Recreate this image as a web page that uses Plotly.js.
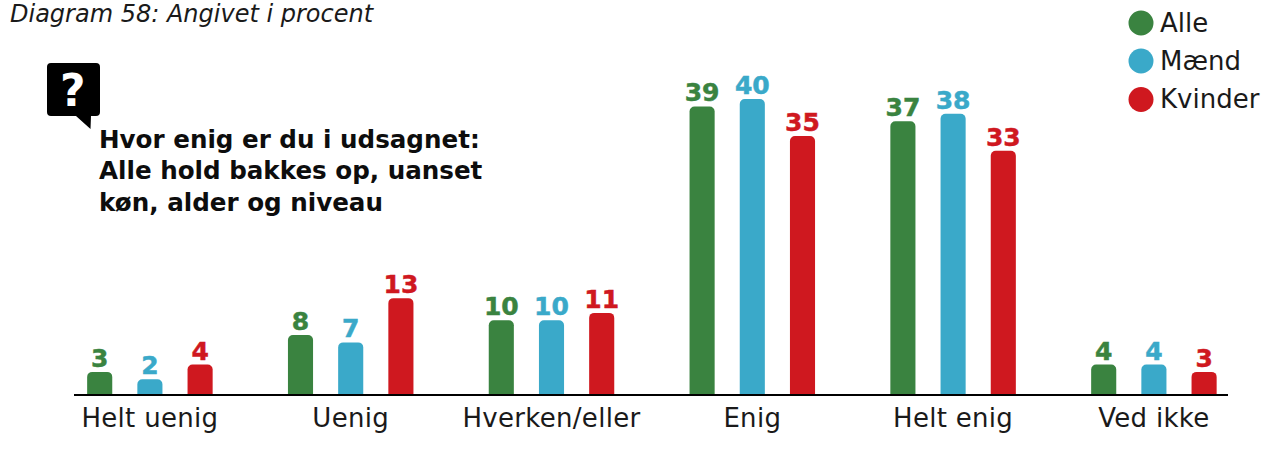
<!DOCTYPE html>
<html><head><meta charset="utf-8">
<script src="https://cdn.plot.ly/plotly-3.0.1.min.js"></script>
<style>html,body{margin:0;padding:0;background:#fff}#c{width:1266px;height:452px}
.xtick text{letter-spacing:.3px}</style>
</head><body><div id="c"></div>
<script>
const categories = ["Helt uenig","Uenig","Hverken/eller","Enig","Helt enig","Ved ikke"];
const alle = [3,8,10,39,37,4];
const maend = [2,7,10,40,38,4];
const kvinder = [4,13,11,35,33,3];
const seriesNames = ["Alle","Mænd","Kvinder"];
const colors = ["#3A8340","#3AA9C9","#CF181F"];
const caption = "Diagram 58: Angivet i procent";
const questionLines = ["Hvor enig er du i udsagnet:","Alle hold bakkes op, uanset","køn, alder og niveau"];

const W=1266,H=452,L=74,R=38,T=60,B=58;
const FONT="'DejaVu Sans', sans-serif";
const px=x=>(x-L)/(W-L-R), py=y=>(H-B-y)/(H-T-B);

const traces=[alle,maend,kvinder].map((v,i)=>({
  type:"bar",name:seriesNames[i],x:categories,y:v,
  marker:{color:colors[i],cornerradius:5},
  text:v.map(String),textposition:"outside",cliponaxis:false,constraintext:"none",
  textfont:{family:FONT,size:25,color:colors[i],weight:700},
  hoverinfo:"x+y+name"
}));

const ann=[];
ann.push({xref:"paper",yref:"paper",x:px(8),y:py(14),xanchor:"left",yanchor:"middle",showarrow:false,
  text:"<i>"+caption+"</i>",font:{family:FONT,size:24,color:"#1a1a1a"}});
questionLines.forEach((t,i)=>ann.push({xref:"paper",yref:"paper",x:px(97),y:py(139+i*31.5),xanchor:"left",yanchor:"middle",showarrow:false,
  text:"<b>"+t+"</b>",font:{family:FONT,size:24.6,color:"#0d0d0d",weight:700}}));
ann.push({xref:"paper",yref:"paper",x:px(73),y:py(90),xanchor:"center",yanchor:"middle",showarrow:false,
  text:"<b>?</b>",font:{family:FONT,size:44,color:"#fff",weight:700}});
const legendY=[23,61,99.5];
seriesNames.forEach((n,i)=>ann.push({xref:"paper",yref:"paper",x:px(1158),y:py(legendY[i]),xanchor:"left",yanchor:"middle",showarrow:false,
  text:n,font:{family:FONT,size:26,color:"#1a1a1a"}}));

const shapes=seriesNames.map((n,i)=>({type:"circle",xref:"paper",yref:"paper",
  x0:px(1128.5),x1:px(1153.5),y0:py(legendY[i]+12.5),y1:py(legendY[i]-12.5),
  fillcolor:colors[i],line:{width:0}}));
const P=(x,y)=>px(x)+","+py(y);
shapes.push({type:"path",xref:"paper",yref:"paper",fillcolor:"#000",line:{width:0},
  path:"M"+P(51,63)+" L"+P(96,63)+" Q"+P(100,63)+" "+P(100,67)+" L"+P(100,112)+" Q"+P(100,116)+" "+P(96,116)+
       " L"+P(91,116)+" L"+P(90.5,129)+" L"+P(76,116)+" L"+P(51,116)+" Q"+P(47,116)+" "+P(47,112)+" L"+P(47,67)+" Q"+P(47,63)+" "+P(51,63)+" Z"});

Plotly.newPlot("c",traces,{
  width:W,height:H,margin:{l:L,r:R,t:T,b:B,pad:0},
  paper_bgcolor:"#fff",plot_bgcolor:"#fff",
  barmode:"group",bargap:0.25,bargroupgap:0.5,
  showlegend:false,
  font:{family:FONT,color:"#1a1a1a"},
  xaxis:{type:"category",range:[-0.378,5.369],showline:true,linecolor:"#000",linewidth:1.5,ticks:"",showgrid:false,
    tickfont:{family:FONT,size:26,color:"#1a1a1a"},automargin:false},
  yaxis:{range:[0,45.3],visible:false,showgrid:false,zeroline:false,automargin:false},
  annotations:ann,shapes:shapes
},{displayModeBar:false,staticPlot:true}).then(()=>{
  document.querySelectorAll("text.bartext").forEach(t=>{
    t.setAttribute("transform","translate(0,4) "+(t.getAttribute("transform")||""));
    t.style.stroke=t.style.fill;t.style.strokeWidth="0.5px";
  });
});
</script></body></html>
